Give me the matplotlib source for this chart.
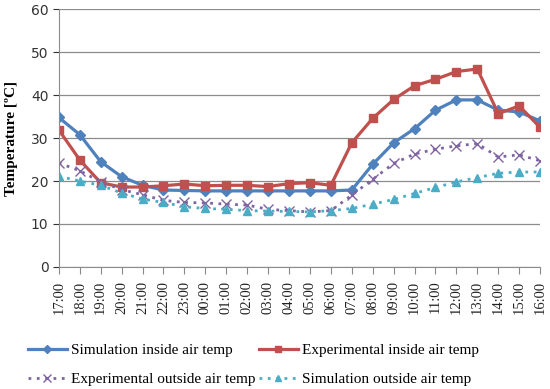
import numpy as np
import matplotlib.pyplot as plt

hours = ["17:00", "18:00", "19:00", "20:00", "21:00", "22:00", "23:00", "00:00",
         "01:00", "02:00", "03:00", "04:00", "05:00", "06:00", "07:00", "08:00",
         "09:00", "10:00", "11:00", "12:00", "13:00", "14:00", "15:00", "16:00"]

sim_inside = [34.8, 30.8, 24.5, 21.0, 19.0, 17.9, 17.8, 17.7, 17.7, 17.7, 17.7, 17.7,
              17.7, 17.7, 17.9, 23.9, 28.9, 32.2, 36.5, 38.9, 38.9, 36.5, 36.1, 34.0]
exp_inside = [31.9, 24.9, 19.6, 18.6, 18.6, 18.9, 19.3, 18.9, 19.0, 19.0, 18.7, 19.4,
              19.6, 19.0, 28.9, 34.6, 39.0, 42.2, 43.7, 45.5, 46.1, 35.7, 37.5, 32.5]
exp_outside = [24.2, 22.4, 19.8, 18.0, 16.8, 15.5, 15.0, 14.9, 14.6, 14.4, 13.4, 13.1,
               12.8, 13.1, 16.7, 20.4, 24.1, 26.3, 27.4, 28.2, 28.7, 25.6, 26.1, 24.7]
sim_outside = [21.1, 20.0, 19.0, 17.2, 15.8, 15.0, 14.0, 13.6, 13.4, 13.1, 13.0, 12.9,
               12.8, 13.1, 13.6, 14.6, 15.7, 17.1, 18.5, 19.8, 20.8, 21.8, 22.1, 22.1]

x = np.arange(len(hours))

fig = plt.figure(figsize=(5.5, 3.89), dpi=100)
ax = fig.add_axes([0.107, 0.314, 0.875, 0.662])

l1, = ax.plot(x, sim_inside, color='#4F81BD', lw=2.3, marker='D', ms=5.5,
              label='Simulation inside air temp')
l2, = ax.plot(x, exp_inside, color='#C0504D', lw=2.3, marker='s', ms=6,
              label='Experimental inside air temp')
l3, = ax.plot(x, exp_outside, color='#8064A2', lw=2, ls=(0, (1, 2)), marker='x',
              ms=7, mew=1, label='Experimental outside air temp')
l4, = ax.plot(x, sim_outside, color='#4BACC6', lw=2, ls=(0, (1, 2)), marker='^',
              ms=6, label='Simulation outside air temp')

ax.set_xlim(0, len(hours) - 1)
ax.set_ylim(0, 60)
ax.set_yticks(range(0, 61, 10))
ax.set_xticks(x)
ax.set_xticklabels(hours, rotation=90, family='Liberation Serif', fontsize=10.5)
ax.tick_params(axis='y', labelsize=10, colors='#333333', length=4, width=0.8)
ax.tick_params(axis='x', colors='#888888', length=5, width=0.8, pad=5,
               labelcolor='#222222')
ax.grid(axis='y', color='#8c8c8c', lw=0.9)
ax.set_axisbelow(True)
for side in ['top', 'right']:
    ax.spines[side].set_visible(False)
ax.spines['left'].set_color('#8c8c8c')
ax.spines['bottom'].set_color('#8c8c8c')

ax.set_ylabel('Temperature [ºC]', family='Liberation Serif', fontweight='bold',
              fontsize=11)
ax.yaxis.set_label_coords(-0.085, 0.5)

fig.legend([l1, l3, l2, l4], [l.get_label() for l in [l1, l3, l2, l4]],
           ncol=2, loc='lower left', bbox_to_anchor=(0.025, -0.028),
           frameon=False, prop={'family': 'Liberation Serif', 'size': 11},
           handlelength=2.6, handletextpad=0.25, columnspacing=0.2,
           labelspacing=1.0, markerscale=0.75)

fig.savefig('out.png', dpi=100)
